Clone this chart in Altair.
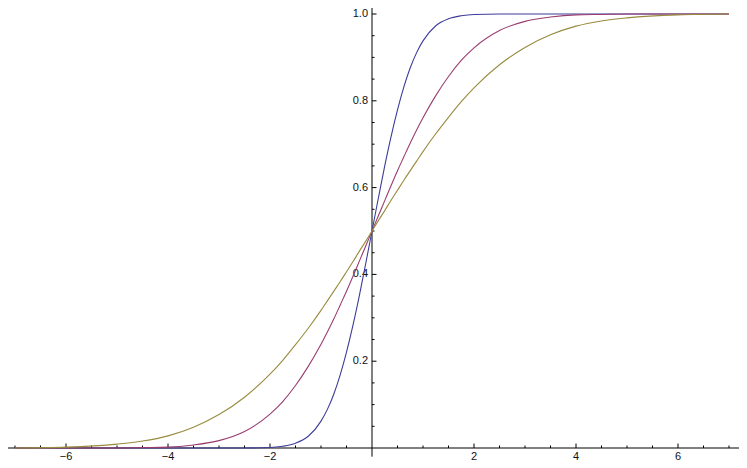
import altair as alt
import pandas as pd

# ---- data ----
x_vals = [-7, -6, -5, -4.5, -4, -3.5, -3, -2.5, -2, -1.75, -1.5, -1.25, -1,
          -0.875, -0.75, -0.625, -0.5, -0.375, -0.25, -0.125, 0,
          0.125, 0.25, 0.375, 0.5, 0.625, 0.75, 0.875, 1, 1.25, 1.5, 1.75,
          2, 2.5, 3, 3.5, 4, 4.5, 5, 6, 7]

blue_vals = [0, 0, 0, 0, 0, 0, 0, 0, 0.001, 0.004, 0.011, 0.027, 0.062,
             0.089, 0.124, 0.168, 0.221, 0.282, 0.350, 0.424, 0.500,
             0.576, 0.650, 0.718, 0.779, 0.832, 0.876, 0.911, 0.938, 0.973, 0.989, 0.996,
             0.999, 1, 1, 1, 1, 1, 1, 1, 1]

purple_vals = [0, 0, 0, 0.001, 0.002, 0.007, 0.017, 0.038, 0.078, 0.107, 0.144, 0.188, 0.239,
               0.267, 0.297, 0.329, 0.361, 0.395, 0.430, 0.465, 0.500,
               0.535, 0.570, 0.605, 0.639, 0.671, 0.703, 0.733, 0.761, 0.812, 0.856, 0.893,
               0.922, 0.962, 0.983, 0.993, 0.998, 0.999, 1, 1, 1]

olive_vals = [0, 0.002, 0.009, 0.016, 0.028, 0.048, 0.077, 0.117, 0.170, 0.202, 0.238, 0.276, 0.317,
              0.339, 0.361, 0.383, 0.406, 0.429, 0.453, 0.476, 0.500,
              0.524, 0.547, 0.571, 0.594, 0.617, 0.639, 0.661, 0.683, 0.724, 0.762, 0.798,
              0.830, 0.883, 0.923, 0.952, 0.972, 0.984, 0.991, 0.998, 1]

series_names = ["blue", "purple", "olive"]
series_colors = ["#3D3D99", "#993D71", "#998B3D"]

x_major = [-6, -4, -2, 2, 4, 6]
x_major_labels = ["\u22126", "\u22124", "\u22122", "2", "4", "6"]
x_minor = [-7, -6.5, -5.5, -5, -4.5, -3.5, -3, -2.5, -1.5, -1, -0.5,
           0.5, 1, 1.5, 2.5, 3, 3.5, 4.5, 5, 5.5, 6.5, 7]
y_major = [0.2, 0.4, 0.6, 0.8, 1.0]
y_major_labels = ["0.2", "0.4", "0.6", "0.8", "1.0"]
y_minor = [0.05, 0.1, 0.15, 0.25, 0.3, 0.35, 0.45, 0.5, 0.55, 0.65, 0.7, 0.75, 0.85, 0.9, 0.95]
y_axis_bottom = -0.02

# ---- layout (page margin 8px, chart must stay within 731 x 452) ----
W, H = 731, 452
PX_X = 51.0      # pixels per x unit
Y0, Y1 = 440.0, 6.0   # view pixel rows of y=0 and y=1
PX_Y = Y0 - Y1
xs = alt.Scale(domain=[-364 / PX_X, (W - 364) / PX_X], nice=False, zero=False)
ys = alt.Scale(domain=[-(H - Y0) / PX_Y, 1 + Y1 / PX_Y], nice=False, zero=False)
AX = "#000000"
FONT = "Liberation Sans"

layers = []
for name, vals, col in zip(series_names, [blue_vals, purple_vals, olive_vals], series_colors):
    df = pd.DataFrame({"x": x_vals, "y": vals})
    layers.append(
        alt.Chart(df).mark_line(color=col, strokeWidth=1.1, interpolate="monotone", clip=True)
        .encode(x=alt.X("x:Q", scale=xs, axis=None), y=alt.Y("y:Q", scale=ys, axis=None))
    )

# x axis line
xaxis = alt.Chart(pd.DataFrame({"z": [0]})).mark_rule(color=AX, strokeWidth=1).encode(
    y=alt.Y("z:Q", scale=ys, axis=None), x=alt.value(0), x2=alt.value(W))
# y axis line
yaxis = alt.Chart(pd.DataFrame({"z": [0], "lo": [y_axis_bottom]})).mark_rule(color=AX, strokeWidth=1).encode(
    x=alt.X("z:Q", scale=xs, axis=None), y=alt.Y("lo:Q", scale=ys, axis=None), y2=alt.value(0))

# x ticks
xmaj_df = pd.DataFrame({"x": x_major, "z": [0] * len(x_major), "lab": x_major_labels})
xmin_df = pd.DataFrame({"x": x_minor, "z": [0] * len(x_minor)})
xmaj_t = alt.Chart(xmaj_df).mark_rule(color=AX, strokeWidth=1, y2Offset=-4.5).encode(
    x=alt.X("x:Q", scale=xs, axis=None), y=alt.Y("z:Q", scale=ys, axis=None), y2="z:Q")
xmin_t = alt.Chart(xmin_df).mark_rule(color=AX, strokeWidth=1, y2Offset=-2.5).encode(
    x=alt.X("x:Q", scale=xs, axis=None), y=alt.Y("z:Q", scale=ys, axis=None), y2="z:Q")
xlab = alt.Chart(xmaj_df).mark_text(font=FONT, fontSize=11, color="#111111", baseline="middle",
                                    align="center", dy=8.5).encode(
    x=alt.X("x:Q", scale=xs, axis=None), y=alt.Y("z:Q", scale=ys, axis=None), text="lab:N")

# y ticks
ymaj_df = pd.DataFrame({"y": y_major, "z": [0] * len(y_major), "lab": y_major_labels})
ymin_df = pd.DataFrame({"y": y_minor, "z": [0] * len(y_minor)})
ymaj_t = alt.Chart(ymaj_df).mark_rule(color=AX, strokeWidth=1, x2Offset=4.5).encode(
    y=alt.Y("y:Q", scale=ys, axis=None), x=alt.X("z:Q", scale=xs, axis=None), x2="z:Q")
ymin_t = alt.Chart(ymin_df).mark_rule(color=AX, strokeWidth=1, x2Offset=2.5).encode(
    y=alt.Y("y:Q", scale=ys, axis=None), x=alt.X("z:Q", scale=xs, axis=None), x2="z:Q")
ylab = alt.Chart(ymaj_df).mark_text(font=FONT, fontSize=11, color="#111111", baseline="middle",
                                    align="right", dx=-4).encode(
    y=alt.Y("y:Q", scale=ys, axis=None), x=alt.X("z:Q", scale=xs, axis=None), text="lab:N")

chart = alt.layer(xaxis, yaxis, xmaj_t, xmin_t, ymaj_t, ymin_t, xlab, ylab, *layers).properties(
    width=W, height=H, autosize=alt.AutoSizeParams(type="none"), padding=0
).configure_view(stroke=None)

chart.save("out.html", embed_options={"renderer": "svg", "actions": False})
